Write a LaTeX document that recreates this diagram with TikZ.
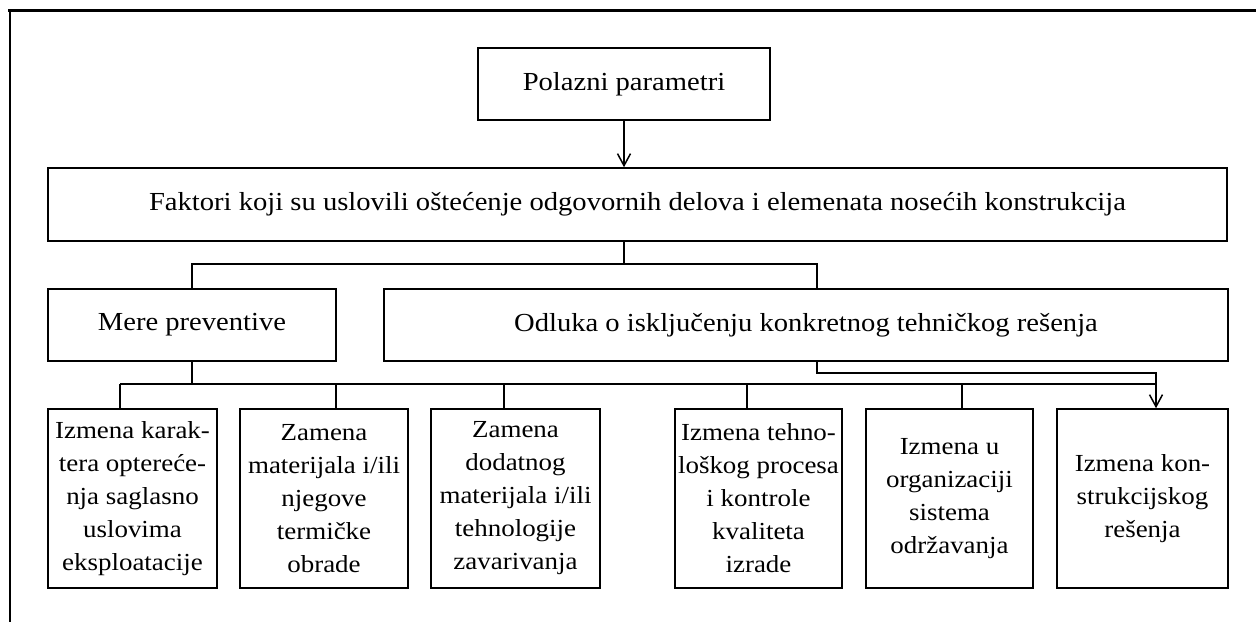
\documentclass[tikz,border=0pt]{standalone}
\usepackage{fontspec}
\setmainfont{Liberation Serif}[FakeStretch=1.1]
\usetikzlibrary{arrows.meta}

\tikzset{
  box/.style={draw, line width=1.6pt, rectangle, inner sep=0pt, align=center,
    font=\fontsize{26}{33}\selectfont},
  smallbox/.style={box, font=\fontsize{24.5}{33}\selectfont,
    minimum height=179pt},
  wire/.style={line width=1.6pt},
  arr/.style={wire, -{Straight Barb[length=12pt,width=13pt,line width=1.5pt]}},
  frameline/.style={line width=3pt},
}

\begin{document}
\begin{tikzpicture}[x=1pt,y=-1pt]
  \useasboundingbox (0,0) rectangle (1256,622);

  % frame edges
  \draw[frameline] (8,10) -- (1256,10);
  \draw[line width=2.2pt] (9.8,10) -- (9.8,622);

  % upper boxes
  \node[box, minimum width=292pt, minimum height=72pt] (pol) at (624,84) {Polazni parametri};
  \node[box, minimum width=1179pt, minimum height=73pt] (fak) at (637.5,204.5)
    {Faktori koji su uslovili oštećenje odgovornih delova i elemenata nosećih konstrukcija};
  \node[box, minimum width=288pt, minimum height=72pt] (mer) at (192,325) {Mere preventive};
  \node[box, minimum width=844pt, minimum height=72pt] (odl) at (806,325)
    {Odluka o isključenju konkretnog tehničkog rešenja};

  % lower boxes
  \node[smallbox, minimum width=169pt] (b1) at (132.5,498.5)
    {Izmena karak-\\tera optereće-\\nja saglasno\\uslovima\\eksploatacije};
  \node[smallbox, minimum width=168pt] (b2) at (324,498.5)
    {Zamena\\materijala i/ili\\njegove\\termičke\\obrade};
  \node[smallbox, minimum width=169pt] (b3) at (515.5,498.5)
    {Zamena\\dodatnog\\materijala i/ili\\tehnologije\\zavarivanja};
  \node[smallbox, minimum width=167pt] (b4) at (758.5,498.5)
    {Izmena tehno-\\loškog procesa\\i kontrole\\kvaliteta\\izrade};
  \node[smallbox, minimum width=167pt] (b5) at (949.5,498.5)
    {Izmena u\\organizaciji\\sistema\\održavanja};
  \node[smallbox, minimum width=171pt] (b6) at (1142.5,498.5)
    {Izmena kon-\\strukcijskog\\rešenja};

  % junction points
  \coordinate (j1) at (624,264);
  \coordinate (j2) at (817,264);
  \coordinate (t1) at (120,384);
  \coordinate (t2) at (336,384);
  \coordinate (t3) at (504,384);
  \coordinate (t4) at (747,384);
  \coordinate (t5) at (962,384);
  \coordinate (t6) at (1156,384);
  \coordinate (d1) at (817,373);
  \coordinate (d2) at (1156,373);

  % connectors
  \draw[arr] (pol.south) -- (pol.south |- fak.north);
  \draw[wire] (fak.south -| j1) -- (j1);
  \draw[wire] (mer.north) |- (j2) -- (j2 |- odl.north);
  \draw[wire] (mer.south) -- (mer.south |- t1);
  \draw[wire] (t1) -- (t6);
  \draw[wire] (t1) -- (t1 |- b1.north);
  \draw[wire] (t2) -- (t2 |- b2.north);
  \draw[wire] (t3) -- (t3 |- b3.north);
  \draw[wire] (t4) -- (t4 |- b4.north);
  \draw[wire] (t5) -- (t5 |- b5.north);
  \draw[arr] (odl.south -| d1) -- (d1) -- (d2) -- (d2 |- b6.north);
\end{tikzpicture}
\end{document}
